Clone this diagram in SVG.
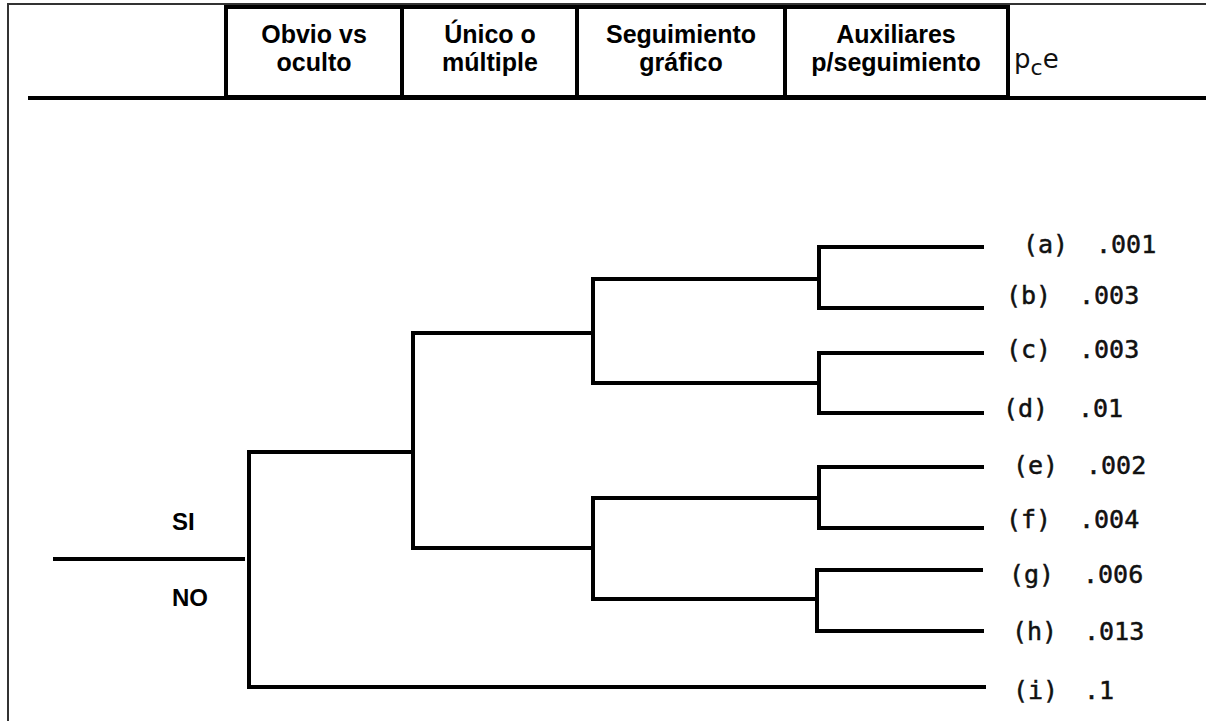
<svg xmlns="http://www.w3.org/2000/svg" width="1206" height="721" viewBox="0 0 1206 721">
<style>
.hdr{font-family:"Liberation Sans",Arial,sans-serif;font-weight:bold;font-size:25px;fill:#000;text-anchor:middle}
.yn{font-family:"Liberation Sans",Arial,sans-serif;font-weight:bold;font-size:24px;fill:#000}
.lbl{font-family:"DejaVu Sans Mono",monospace;font-size:25px;fill:#111;stroke:#111;stroke-width:0.5}
.pce{font-family:"DejaVu Sans",sans-serif;font-size:26px;fill:#111}
.br{fill:none;stroke:#000;stroke-width:4;stroke-linecap:square;stroke-linejoin:miter}
</style>
<rect width="1206" height="721" fill="#fff"/>
<g id="frame">
<path d="M8 721 V4 H1206" fill="none" stroke="#333" stroke-width="2"/>
<rect x="226" y="7" width="782" height="90" fill="none" stroke="#000" stroke-width="4"/>
<line x1="402" y1="7" x2="402" y2="97" stroke="#000" stroke-width="4"/>
<line x1="577" y1="7" x2="577" y2="97" stroke="#000" stroke-width="4"/>
<line x1="785" y1="7" x2="785" y2="97" stroke="#000" stroke-width="4"/>
<line x1="28" y1="98" x2="1206" y2="98" stroke="#000" stroke-width="4"/>
</g>
<g id="h1"><text class="hdr" x="314" y="43">Obvio vs</text><text class="hdr" x="314" y="71">oculto</text></g>
<g id="h2"><text class="hdr" x="490" y="43">Único o</text><text class="hdr" x="490" y="71">múltiple</text></g>
<g id="h3"><text class="hdr" x="681" y="43">Seguimiento</text><text class="hdr" x="681" y="71">gráfico</text></g>
<g id="h4"><text class="hdr" x="896" y="43">Auxiliares</text><text class="hdr" x="896" y="71">p/seguimiento</text></g>
<g id="h5"><text class="pce" x="1014" y="68">p<tspan dy="7" font-size="22">c</tspan><tspan dy="-7">e</tspan></text></g>
<g id="connectors">
<path class="br" d="M55 559 H243"/>
<path class="br" d="M413 452 H249 V687 H984"/>
<path class="br" d="M593 333 H413 V548 H593"/>
<path class="br" d="M819 279 H593 V383 H819"/>
<path class="br" d="M817 498 H593 V599 H817"/>
<path class="br" d="M982 247 H819 V308 H982"/>
<path class="br" d="M982 353 H819 V413 H982"/>
<path class="br" d="M982 467 H819 V528 H982"/>
<path class="br" d="M981 570 H817 V631 H982"/>
</g>
<g id="yesno"><text class="yn" x="172" y="530">SI</text><text class="yn" x="172" y="606">NO</text></g>
<g id="leaf-a"><text class="lbl" x="1023" y="253">(a)</text><text class="lbl" x="1096" y="253">.001</text></g>
<g id="leaf-b"><text class="lbl" x="1006" y="304">(b)</text><text class="lbl" x="1079" y="304">.003</text></g>
<g id="leaf-c"><text class="lbl" x="1006" y="358">(c)</text><text class="lbl" x="1079" y="358">.003</text></g>
<g id="leaf-d"><text class="lbl" x="1003" y="417">(d)</text><text class="lbl" x="1078" y="417">.01</text></g>
<g id="leaf-e"><text class="lbl" x="1013" y="474">(e)</text><text class="lbl" x="1086" y="474">.002</text></g>
<g id="leaf-f"><text class="lbl" x="1006" y="528">(f)</text><text class="lbl" x="1079" y="528">.004</text></g>
<g id="leaf-g"><text class="lbl" x="1009" y="583">(g)</text><text class="lbl" x="1083" y="583">.006</text></g>
<g id="leaf-h"><text class="lbl" x="1012" y="640">(h)</text><text class="lbl" x="1084" y="640">.013</text></g>
<g id="leaf-i"><text class="lbl" x="1013" y="699">(i)</text><text class="lbl" x="1084" y="699">.1</text></g>
</svg>
